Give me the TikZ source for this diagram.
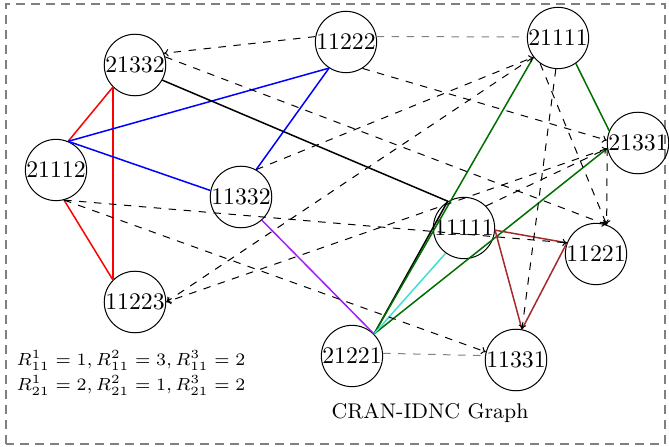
\documentclass[tikz,border=0pt]{standalone}
\usepackage{amsmath, amssymb}
\usepackage{tikz}
\usetikzlibrary{arrows.meta}
\usepackage{xcolor}
\definecolor{darkbrown}{RGB}{165,42,42}
\definecolor{turq}{RGB}{64,224,208}
\definecolor{grape}{RGB}{160,32,240}
\definecolor{darkgreen}{RGB}{0,110,0}

\begin{document}
\begin{tikzpicture}[x=0.4pt, y=0.4pt,
    every node/.style={font=\fontsize{9.5}{11}\selectfont},
    vtx/.style={circle, draw, inner sep=0pt, minimum size=23.2pt},
    conf/.style={dashed, -{To[length=1.8pt, width=3pt]}},
    link/.style={semithick}]
  \useasboundingbox (0,0) rectangle (669,447);
  \draw[gray, thick, dash pattern=on 3.5pt off 2.5pt] (6,3) rectangle (665,443);
  % vertices
  \node[vtx] (v21332) at (135,382) {21332};
  \node[vtx] (v11222) at (346,405) {11222};
  \node[vtx] (v21111) at (558,409) {21111};
  \node[vtx] (v21112) at (56,277) {21112};
  \node[vtx] (v21331) at (638,304) {21331};
  \node[vtx] (v11332) at (241,250) {11332};
  \node[vtx] (v11111) at (464,219) {11111};
  \node[vtx] (v11221) at (596,193) {11221};
  \node[vtx] (v11223) at (135,145) {11223};
  \node[vtx] (v21221) at (352,91) {21221};
  \node[vtx] (v11331) at (516,87) {11331};
  % coding edges
  \draw[link, red] (v21112.67) -- (v21332.225);
  \draw[link, red] (v21332.225) -- (v11223.135);
  \draw[link, red] (v21112.285) -- (v11223.135);
  \draw[link, blue] (v21112.67) -- (v11222.237);
  \draw[link, blue] (v21112.67) -- (v11332.168);
  \draw[link, blue] (v11332.61) -- (v11222.237);
  \draw[link] (v21332.331) -- (v11111.121);
  \draw[link] (v21221.45) -- (v11111.122);
  \draw[link, darkgreen] (v21111.218) -- (v21221.45);
  \draw[link, darkgreen] (v21111.305) -- (v21331.157);
  \draw[link, darkgreen] (v21331.190) -- (v21221.45);
  \draw[link, turq] (v11111.234) -- (v21221.45);
  \draw[link, grape] (v11332.312) -- (v21221.45);
  \draw[link, darkbrown] (v11111.356) -- (v11221.159);
  \draw[link, darkbrown] (v11111.356) -- (v11331.79);
  \draw[link, darkbrown] (v11221.159) -- (v11331.79);
  % conflict edges
  \draw[conf] (v11222.170) -- (v21332.22);
  \draw[dashed, gray] (v11222.10) -- (v21111.178);
  \draw[conf] (v21332.15) -- (v11221.70);
  \draw[conf] (v11222.302) -- (v21331.175);
  \draw[conf] (v21112.285) -- (v11221.159);
  \draw[conf] (v21112.285) -- (v11331.165);
  \draw[conf] (v11332.61) -- (v21111.218);
  \draw[conf] (v21111.218) -- (v11223.0);
  \draw[conf] (v21331.190) -- (v11223.0);
  \draw[conf] (v21111.266) -- (v11331.79);
  \draw[conf] (v21111.235) -- (v11221.70);
  \draw[conf] (v21331.190) -- (v11221.70);
  \draw[conf] (v11111.45) -- (v21331.190);
  \draw[dashed, gray] (v21221.5) -- (v11331.172);
  % labels
  \node[align=left, font=\fontsize{7.3}{10}\selectfont] (rates) at (131,74)
    {$R^1_{11}=1, R^2_{11}=3, R^3_{11}=2$\\$R^1_{21}=2, R^2_{21}=1, R^3_{21}=2$};
  \node[font=\fontsize{8.5}{10}\selectfont] (title) at (430,34) {CRAN-IDNC Graph};
\end{tikzpicture}
\end{document}
